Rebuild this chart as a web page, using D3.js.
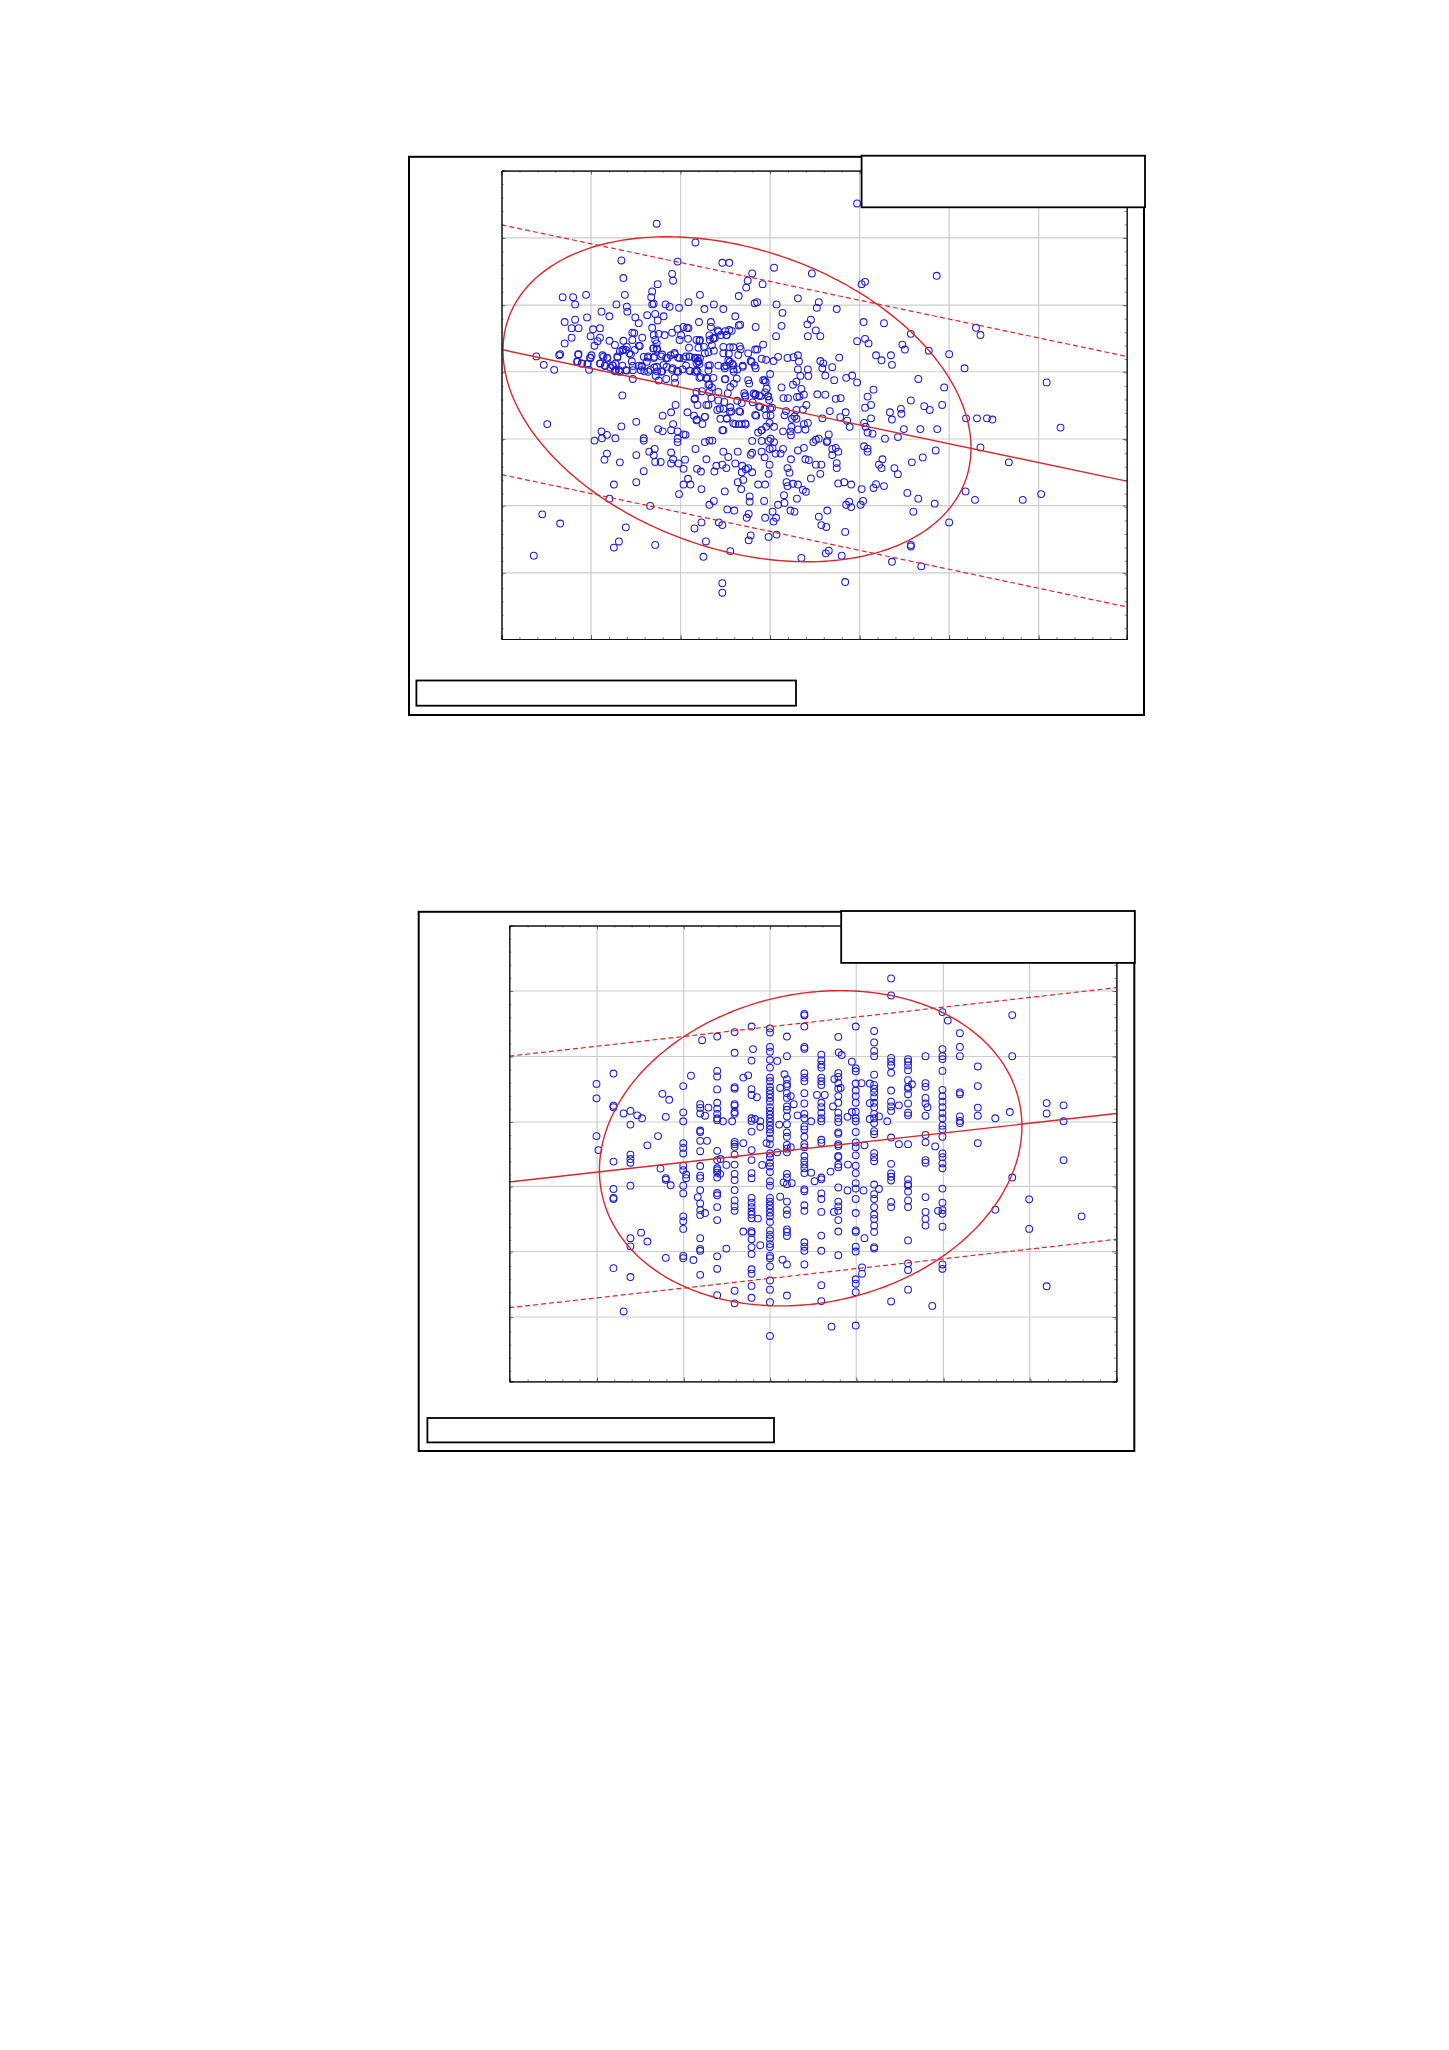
<!DOCTYPE html>
<html><head><meta charset="utf-8">
<script src="https://cdn.jsdelivr.net/npm/d3@7/dist/d3.min.js"></script>
<style>html,body{margin:0;padding:0;background:#fff}svg{display:block}</style></head>
<body><svg id="c" width="1449" height="2050"></svg>
<script>
// Readings (axes carry no visible labels, so units are picture-reading units)
const pointsA = [[919,166],[516,219],[594,268],[445,315],[558,318],[648,321],[662,321],[752,334],[828,349],[708,349],[547,350],[449,361],[549,368],[699,368],[1079,355],[935,371],[928,377],[729,377],[518,377],[696,386],[507,396],[452,405],[374,405],[327,411],[348,411],[603,405],[505,411],[681,408],[800,414],[842,424],[352,430],[510,428],[507,430],[435,430],[534,430],[542,436],[561,439],[580,424],[631,430],[612,442],[650,442],[713,427],[718,424],[757,430],[838,439],[878,442],[456,436],[457,449],[405,449],[497,458],[513,455],[769,452],[421,461],[376,464],[473,464],[530,461],[352,470],[331,476],[480,479],[518,472],[601,476],[625,476],[674,461],[826,470],[819,482],[932,476],[973,479],[1158,491],[1167,510],[1027,507],[345,492],[359,492],[402,492],[388,495],[467,504],[471,505],[507,491],[625,489],[570,489],[577,491],[580,492],[558,494],[547,504],[639,498],[654,500],[662,497],[681,485],[684,483],[715,489],[767,486],[836,498],[820,513],[845,513],[756,513],[345,517],[383,513],[402,517],[397,526],[331,532],[421,525],[391,538],[432,536],[449,525],[467,523],[487,517],[510,510],[520,507],[532,510],[513,523],[516,532],[565,510],[562,523],[579,520],[602,525],[622,511],[630,518],[645,510],[656,510],[633,518],[919,526],[935,520],[942,532],[730,535],[718,548],[1010,535],[1015,548],[1063,551],[1104,560],[987,563],[957,563],[968,576],[989,588],[1135,597],[1042,625],[1300,634],[1094,647],[952,653],[940,671],[1027,681],[1054,696],[1065,706],[1090,693],[935,700],[947,693],[985,712],[1007,703],[1008,716],[947,728],[989,731],[1138,728],[1160,728],[1180,728],[1191,731],[1328,752],[933,740],[936,750],[940,765],[950,768],[1013,756],[1046,756],[1080,756],[975,781],[1001,777],[1167,804],[1077,812],[1051,830],[1029,843],[970,835],[963,849],[968,858],[994,858],[1001,874],[1224,843],[933,801],[940,807],[940,815],[957,900],[952,910],[973,905],[928,913],[1020,923],[1042,938],[1075,951],[1137,919],[1156,941],[1252,941],[1289,926],[1032,972],[1104,1000],[931,944],[926,954],[903,946],[897,954],[907,960],[859,969],[842,985],[847,1007],[857,1012],[895,1025],[1027,1059],[1027,1063],[989,1103],[1048,1115],[888,1087],[862,1074],[856,1081],[807,1093],[895,1156],[664,1075],[610,1090],[648,1159],[648,1184],[513,1059],[430,1066],[440,1050],[454,1013],[322,1003],[286,979],[269,1087],[296,743],[447,668],[503,957],[421,938],[430,901],[475,895],[490,866],[442,843],[411,836],[416,820],[475,824],[501,815],[512,808],[510,824],[513,842],[524,842],[545,817],[549,835],[545,846],[560,846],[573,836],[570,860],[597,860],[605,867],[594,808],[616,835],[632,867],[636,852],[648,849],[656,858],[660,829],[650,815],[679,815],[674,846],[688,852],[695,861],[687,869],[700,858],[708,869],[690,889],[679,895],[686,913],[653,919],[606,913],[561,926],[570,901],[584,901],[579,886],[631,944],[622,954],[658,966],[672,969],[703,932],[703,946],[732,944],[720,901],[734,901],[741,873],[743,849],[733,830],[705,823],[708,818],[727,815],[743,808],[755,820],[770,808],[765,820],[786,835],[812,805],[815,835],[822,837],[836,849],[847,849],[845,873],[826,885],[783,870],[779,858],[777,895],[779,905],[790,899],[800,901],[810,915],[816,920],[798,938],[772,929],[773,949],[760,954],[785,969],[793,972],[749,972],[734,988],[756,988],[751,998],[701,978],[697,988],[705,1034],[701,1047],[741,1038],[757,1032],[606,1000],[592,1016],[641,1000],[648,1007],[615,1050],[881,898],[893,895],[907,901],[878,845],[878,858],[869,808],[881,815],[869,824],[858,790],[862,770],[842,781],[836,784],[831,790],[800,812],[770,762],[785,762],[786,772],[800,757],[815,757],[820,740],[812,743],[788,729],[793,723],[773,720],[797,706],[817,693],[776,709],[810,705],[797,729],[787,750],[752,750],[736,750],[743,740],[745,720],[736,720],[716,721],[748,700],[733,703],[722,697],[709,686],[687,688],[682,709],[681,743],[674,743],[695,744],[687,743],[657,729],[644,729],[638,706],[650,703],[664,699],[666,710],[652,685],[640,681],[616,693],[598,693],[592,678],[596,659],[622,640],[620,640],[627,647],[607,657],[640,659],[659,662],[664,646],[671,637],[654,625],[630,622],[602,622],[616,622],[552,622],[553,635],[535,625],[520,629],[514,617],[468,625],[432,605],[380,601],[310,601],[289,588],[274,566],[320,563],[322,560],[359,560],[357,579],[366,585],[377,585],[383,570],[385,563],[407,563],[416,569],[403,585],[412,590],[428,590],[433,585],[437,566],[442,553],[461,558],[447,550],[456,541],[480,538],[510,545],[517,548],[525,566],[510,570],[499,566],[496,580],[486,590],[491,605],[454,602],[468,602],[440,602],[511,595],[530,588],[527,605],[538,570],[552,557],[562,570],[575,566],[581,543],[600,543],[611,541],[627,537],[620,555],[631,551],[650,541],[663,542],[670,542],[683,540],[685,547],[661,559],[680,562],[700,558],[714,548],[727,572],[736,575],[751,578],[760,567],[779,570],[791,568],[800,563],[802,579],[845,578],[851,584],[883,569],[869,594],[849,597],[800,600],[820,600],[821,617],[805,617],[855,616],[873,628],[897,622],[909,616],[919,634],[790,640],[797,632],[807,651],[767,647],[733,628],[744,612],[735,633],[700,628],[702,637],[713,590],[715,597],[689,590],[678,600],[671,606],[670,600],[652,592],[656,590],[660,576],[668,585],[640,590],[620,590],[598,570],[599,578],[602,586],[582,566],[575,590],[557,604],[547,601],[582,603],[596,603],[620,603],[605,620],[598,605],[568,600],[517,605],[503,601],[484,602],[480,590],[466,579],[434,602],[447,590],[705,578],[734,660],[740,670],[742,680],[711,663],[715,665],[722,668],[725,670],[692,662],[694,668],[678,682],[622,659],[626,675],[780,675],[771,675],[798,672],[803,671],[812,666],[839,665],[855,666],[876,677],[886,675],[864,709],[849,728],[885,725],[896,712],[899,734],[904,750],[859,787],[876,805],[391,786],[405,762],[416,771],[406,780],[433,780],[445,749],[475,737],[490,780],[490,786],[519,756],[528,762],[528,721],[545,712],[554,693],[578,712],[591,721],[597,731],[608,743],[613,724],[549,743],[545,759],[558,762],[574,771],[570,770],[558,781],[558,790],[613,790],[622,786],[628,786],[648,759],[708,787],[727,787],[741,787],[752,790],[749,806],[720,765],[727,759],[745,781],
[409,567],[417,571],[427,589],[437,569],[449,548],[454,549],[464,561],[472,549],[482,539],[490,567],[498,569],[511,567],[509,545],[516,545],[527,561],[535,570],[544,563],[552,560],[559,569],[570,571],[582,567],[593,569],[596,584],[583,604],[559,606],[548,597],[536,593],[525,606],[516,593],[499,606],[486,593],[468,591],[456,603],[441,606],[432,603],[423,595],[412,591],[402,584],[382,569],[365,584],[377,586],[358,561],[356,580],
[596,523],[603,523],[593,571],[600,580],[623,589],[653,597],[670,589],[689,593],[707,580],[593,606],[617,624],[653,626],[677,624],[623,523],[630,519],[640,501],[657,510],[667,499],[603,571],[613,558],[650,558],[663,580],
[593,676],[620,693],[643,702],[663,711],[694,672],[714,667],[730,628],[737,650],[740,671],[724,698],[744,702],[714,719],[684,711],[657,728],[613,724],[596,733],[650,759],[670,741],[694,741],[727,759]];
const columnsB = [[385,[497,536,638]],[389,[676]],[420,[469,556,560,707,781,805,808,995]],[441,[577,1112]],[455,[570,607,688,700,710,772,914,936,1019]],[469,[582]],[479,[590]],[477,[899]],[490,[663,923]],[512,[638]],[517,[726]],[521,[524]],[535,[540]],[528,[586,752,756,967]],[538,[771]],[564,[503,574,598,657,670,685,718,730,772,793,855,868,889,962,968]],[570,[742,752]],[580,[475]],[585,[973]],[599,[552,562,577,623,627,651,679,719,745,752,784,820,838,851,914,943,948,1013]],[594,[803]],[603,[379]],[609,[583,846]],[616,[561]],[613,[651]],[634,[369,462,477,512,548,564,578,590,595,678,703,725,730,737,750,792,798,830,865,963,997,1068]],[641,[700]],[646,[598]],[640,[740]],[653,[716,942]],[670,[357,413,506,510,552,556,573,578,654,660,667,688,715,740,757,784,812,828,840,1056,1090]],[665,[598]],[688,[480,657,896]],[698,[474]],[705,[342,434,511,527,590,597,626,676,703,738,752,805,818,830,842,850,860,895,900,917,938,957,998,1010,1043,1075]],[708,[403]],[712,[592]],[716,[533]],[723,[598,613,933]],[727,[716]],[718,[861]],[743,[347,358,397,410,432,453,480,490,505,515,525,535,545,560,570,580,590,600,610,620,630,645,660,685,695,710,720,735,760,772,805,815,825,835,845,855,870,893,905,915,930,938,962,968,990,1028,1053,1087,1178]],[736,[657]],[758,[435,682]],[764,[508,802]],[762,[607]],[773,[471]],[771,[763]],[778,[369,422,484,497,503,522,535,558,567,585,606,628,640,662,672,682,740,750,768,815,838,850,890,897,908,985,1069]],[786,[530,668]],[769,[972]],[788,[765]],[792,[552]],[800,[582]],[814,[308,312,342,397,402,468,480,490,522,550,578,590,612,620,640,660,668,692,705,715,725,738,782,787,825,840,925,937,948,985]],[828,[598,737]],[835,[760]],[840,[527]],[849,[418,433,445,453,480,490,500,548,560,575,590,598,648,656,750,755,793,808,843,907,948,1041,1084]],[856,[527]],[868,[734]],[873,[558]],[884,[370,468,478,495,510,530,548,575,590,600,628,632,660,665,692,695,715,722,777,815,828,840,865,896,960]],[876,[484]],[889,[508]],[891,[419]],[885,[412]],[875,[843]],[904,[715]],[903,[785,586]],[912,[573,437]],[920,[342,455,463,496,515,530,548,572,590,598,627,655,668,690,718,738,765,780,808,846,893,897,937,950,1025,1037,1060,1150]],[870,[1153]],[932,[495]],[938,[663,914]],[936,[785]],[933,[993,1010]],[958,[354,385,408,422,472,500,510,520,533,548,560,578,590,603,625,633,684,695,706,769,795,808,830,850,862,880,897,938,942]],[949,[496,549,592]],[968,[585,781]],[993,[212,258,427,437,447,467,515,545,558,570,642,713,739,748,758,816,830,1085]],[1009,[555,660]],[985,[598]],[1028,[430,437,447,460,487,505,510,525,550,575,582,660,755,768,772,788,812,830,920,982,1000,1053]],[1036,[498]],[1064,[422,495,505,535,550,583,635,655,703,710,803,843,862,880]],[1068,[560]],[1084,[666]],[1090,[840]],[1078,[1097]],[1099,[303,403,422,430,462,513,530,545,560,576,590,610,620,640,685,695,712,725,780,818,838,848,883,985,997]],[1110,[326]],[1135,[360,397,422,520,525,585,597,603]],[1172,[450,503,561,583,657]],[1208,[590,837]],[1238,[573]],[1243,[311,422,750]],[1278,[809,889]],[1314,[549,577,1044]],[1349,[555,598,703]],[1386,[855]]];
const pointsB = columnsB.flatMap(([x, ys]) => ys.map(y => [x, y]));

const xTicksA = [384,564,744,924,1104,1284];
const yTicksA = [256,432,606,782,956,1132];
const xTicksB = [386,565,743,921,1101,1279];
const yTicksB = [246,423,600,774,950,1127];

const chartA = {
  pts: pointsA, xTicks: xTicksA, yTicks: yTicksA,
  xDom: [204,1461], yDom: [80,1305], xRange: [501.5,1126.7], yRange: [170.6,639],
  mid: [548,892], up: [222,566], lo: [875,1221],
  ell: {cx:677.5, cy:678, a:470.5, b:425, r:0.30},
  frame: [409,156.8,1144,715], boxT: [861.6,155.7,1145,207.3], boxB: [416.4,680.5,796,705.7]
};
const chartB = {
  pts: pointsB, xTicks: xTicksB, yTicks: yTicksB,
  xDom: [205,1458], yDom: [69,1301], xRange: [509.3,1116.4], yRange: [925.5,1381.4],
  mid: [762,577], up: [422,237], lo: [1102,917],
  ell: {cx:827, cy:671, a:436, b:426, r:-0.14},
  frame: [418.7,911.8,1134.3,1451], boxT: [841.2,911,1134.8,962.9], boxB: [427.4,1418,774,1442.4]
};

const svg = d3.select("#c");
const BLUE = "#1c1cd4", RED = "#d9262c", GRID = "#cdcdcd";

function minors(t){
  const s = t[1]-t[0], out = [];
  for (let v = t[0]-s; v <= t[t.length-1]+s+1; v += s/5) out.push(v);
  return out;
}
function rect(g, r, w){
  g.append("rect").attr("x",r[0]).attr("y",r[1]).attr("width",r[2]-r[0]).attr("height",r[3]-r[1])
   .attr("fill","#fff").attr("stroke","#000").attr("stroke-width",w);
}
function draw(c){
  const g = svg.append("g");
  rect(g, c.frame, 2);
  const x = d3.scaleLinear().domain(c.xDom).range(c.xRange);
  const y = d3.scaleLinear().domain(c.yDom).range(c.yRange);
  const L = c.xRange[0], R = c.xRange[1], T = c.yRange[0], B = c.yRange[1];
  // grid
  g.append("g").selectAll("line").data(c.xTicks).join("line")
    .attr("x1",d=>x(d)).attr("x2",d=>x(d)).attr("y1",T).attr("y2",B)
    .attr("stroke",GRID).attr("stroke-width",1.2);
  g.append("g").selectAll("line").data(c.yTicks).join("line")
    .attr("y1",d=>y(d)).attr("y2",d=>y(d)).attr("x1",L).attr("x2",R)
    .attr("stroke",GRID).attr("stroke-width",1.2);
  // points
  g.append("g").selectAll("circle").data(c.pts).join("circle")
    .attr("cx",d=>x(d[0])).attr("cy",d=>y(d[1])).attr("r",3.4)
    .attr("fill","none").attr("stroke",BLUE).attr("stroke-width",1.05);
  // regression lines
  const ln = (v,dash)=> g.append("line").attr("x1",L).attr("x2",R).attr("y1",y(v[0])).attr("y2",y(v[1]))
     .attr("stroke",RED).attr("stroke-width",dash?1.2:1.4).attr("stroke-dasharray",dash?"5,3":null);
  ln(c.mid,false); ln(c.up,true); ln(c.lo,true);
  // ellipse
  const e = c.ell, phi = Math.acos(e.r);
  const ts = d3.range(0, 2*Math.PI, 0.02);
  g.append("path").attr("fill","none").attr("stroke",RED).attr("stroke-width",1.4)
    .attr("d", d3.line().curve(d3.curveLinearClosed)
      .x(t=>x(e.cx+e.a*Math.cos(t))).y(t=>y(e.cy+e.b*Math.cos(t+phi)))(ts));
  // axes: inward ticks on all four sides, no labels
  const ax = (gen, vals, size, tf)=> g.append("g").attr("transform",tf)
     .call(gen.tickValues(vals).tickSize(size).tickFormat(""))
     .call(s=>s.select(".domain").attr("stroke-width",1).attr("stroke","#111"))
     .call(s=>s.selectAll(".tick line").attr("stroke","#444").attr("stroke-width",0.7));
  const mx = minors(c.xTicks).filter(v=>v>c.xDom[0]&&v<c.xDom[1]), my = minors(c.yTicks).filter(v=>v>c.yDom[0]&&v<c.yDom[1]);
  ax(d3.axisBottom(x), mx, -2, `translate(0,${B})`);
  ax(d3.axisTop(x), mx, -2, `translate(0,${T})`);
  ax(d3.axisLeft(y), my, -2, `translate(${L},0)`);
  ax(d3.axisRight(y), my, -2, `translate(${R},0)`);
  ax(d3.axisBottom(x), c.xTicks, -4, `translate(0,${B})`);
  ax(d3.axisTop(x), c.xTicks, -4, `translate(0,${T})`);
  ax(d3.axisLeft(y), c.yTicks, -4, `translate(${L},0)`);
  ax(d3.axisRight(y), c.yTicks, -4, `translate(${R},0)`);
  // legend boxes (their text is blank in the picture)
  rect(g, c.boxT, 1.8);
  rect(g, c.boxB, 1.8);
}
draw(chartA); draw(chartB);
</script></body></html>
